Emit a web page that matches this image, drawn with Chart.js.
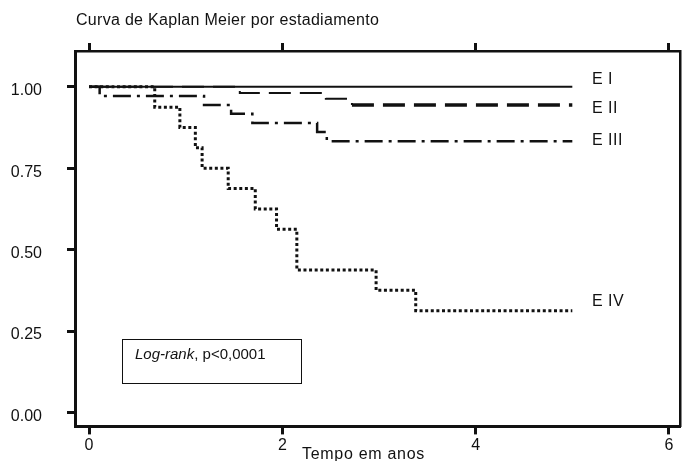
<!DOCTYPE html>
<html>
<head>
<meta charset="utf-8">
<script src="https://cdn.jsdelivr.net/npm/chart.js@4/dist/chart.umd.min.js"></script>
<style>
  body { margin: 0; background: #fff; }
  canvas { display: block; }
</style>
</head>
<body>
<canvas id="km" width="684" height="461"></canvas>
<script>
// Kaplan-Meier survival by stage
const groupLabels = ['E I', 'E II', 'E III', 'E IV'];

const timesEI = [0, 5.0];
const survEI = [1, 1];

const timesEII = [0, 1.56, 2.45, 2.72, 5.0];
const survEII = [1, 0.981, 0.963, 0.944, 0.944];

const timesEIII = [0, 0.11, 1.19, 1.47, 1.69, 2.36, 2.46, 5.0];
const survEIII = [1, 0.972, 0.944, 0.917, 0.889, 0.861, 0.833, 0.833];

const timesEIV = [0, 0.68, 0.94, 1.10, 1.17, 1.44, 1.72, 1.94, 2.15, 2.97, 3.38, 5.0];
const survEIV = [1, 0.9375, 0.875, 0.8125, 0.75, 0.6875, 0.625, 0.5625, 0.4375, 0.375, 0.3125, 0.3125];

const xTicks = [0, 2, 4, 6];
const yTicks = [0, 0.25, 0.5, 0.75, 1.0];

const chartTitle = 'Curva de Kaplan Meier por estadiamento';
const xAxisTitle = 'Tempo em anos';
const testItalic = 'Log-rank';
const testRest = ', p<0,0001';

const FONT = 'Arial, "Liberation Sans", sans-serif';
const INK = '#111';

function pts(times, surv) {
    return times.map((t, i) => ({ x: t, y: surv[i] }));
}

function setTicks(values) {
    return scale => { scale.ticks = values.map(v => ({ value: v })); };
}

const overlay = {
    id: 'overlay',
    afterDraw(chart) {
        const ctx = chart.ctx;
        const ys = chart.scales.y;
        ctx.save();
        ctx.fillStyle = INK;
        ctx.textBaseline = 'middle';
        ctx.textAlign = 'left';
        ctx.font = '16px ' + FONT;
        ctx.letterSpacing = '0.3px';
        ctx.fillText(chartTitle, 76, 21);
        ctx.letterSpacing = '0.7px';
        ctx.fillText(xAxisTitle, 302, 455);
        ctx.letterSpacing = '0.5px';

        // labels at the end of each curve
        const lastVals = [survEI, survEII, survEIII, survEIV].map(a => a[a.length - 1]);
        const dy = [-7, 4, -1, -9];
        groupLabels.forEach((lab, i) => {
            ctx.fillText(lab, 592, ys.getPixelForValue(lastVals[i]) + dy[i]);
        });
        ctx.letterSpacing = '0px';

        // log-rank box
        ctx.strokeStyle = INK;
        ctx.lineWidth = 1;
        ctx.strokeRect(122.5, 339.5, 179, 44);
        ctx.font = 'italic 15px ' + FONT;
        ctx.fillText(testItalic, 135, 355);
        const w = ctx.measureText(testItalic).width;
        ctx.font = '15px ' + FONT;
        ctx.fillText(testRest, 135 + w, 355);
        ctx.restore();
    }
};

const common = { showLine: true, pointRadius: 0, stepped: 'before', fill: false,
                 borderColor: INK, borderCapStyle: 'butt', borderJoinStyle: 'miter' };

new Chart(document.getElementById('km'), {
    type: 'line',
    data: {
        datasets: [
            { ...common, label: groupLabels[0], data: pts(timesEI, survEI), borderWidth: 2 },
            { ...common, label: groupLabels[1], data: pts(timesEII, survEII), borderWidth: 3, borderDash: [22, 9],
              segment: { borderWidth: c => c.p0.parsed.y > 0.95 ? 2 : 3.5 } },
            { ...common, label: groupLabels[2], data: pts(timesEIII, survEIII), borderWidth: 2.5, borderDash: [18, 6, 3, 6] },
            { ...common, label: groupLabels[3], data: pts(timesEIV, survEIV), borderWidth: 3, borderDash: [3, 2.6] }
        ]
    },
    options: {
        responsive: false,
        animation: false,
        devicePixelRatio: 1,
        layout: { padding: 0 },
        plugins: { legend: { display: false }, title: { display: false }, tooltip: { enabled: false } },
        scales: {
            x: {
                type: 'linear', position: 'bottom', min: -0.145, max: 6.114,
                afterBuildTicks: setTicks(xTicks),
                afterFit: s => { s.height = 33; },
                grid: { drawOnChartArea: false, tickLength: 8, tickWidth: 3, tickColor: INK },
                border: { display: true, color: INK, width: 3 },
                ticks: { color: INK, font: { size: 16, family: FONT }, padding: 2, maxRotation: 0, autoSkip: false }
            },
            x2: {
                type: 'linear', position: 'top', min: -0.145, max: 6.114,
                afterBuildTicks: setTicks(xTicks),
                afterFit: s => { s.height = 51; },
                grid: { drawOnChartArea: false, tickLength: 8, tickWidth: 3, tickColor: INK },
                border: { display: true, color: INK, width: 2.5 },
                ticks: { display: false }
            },
            y: {
                type: 'linear', position: 'left', min: -0.043, max: 1.11,
                afterBuildTicks: setTicks(yTicks),
                afterFit: s => { s.width = 75; },
                grid: { drawOnChartArea: false, tickLength: 8, tickWidth: 3, tickColor: INK },
                border: { display: true, color: INK, width: 3 },
                ticks: { color: INK, font: { size: 16, family: FONT }, padding: 25, labelOffset: 4,
                         callback: v => v.toFixed(2) }
            },
            y2: {
                type: 'linear', position: 'right', min: -0.043, max: 1.11,
                afterFit: s => { s.width = 4; },
                grid: { display: false },
                border: { display: true, color: INK, width: 2.5 },
                ticks: { display: false }
            }
        }
    },
    plugins: [overlay]
});
</script>
</body>
</html>
